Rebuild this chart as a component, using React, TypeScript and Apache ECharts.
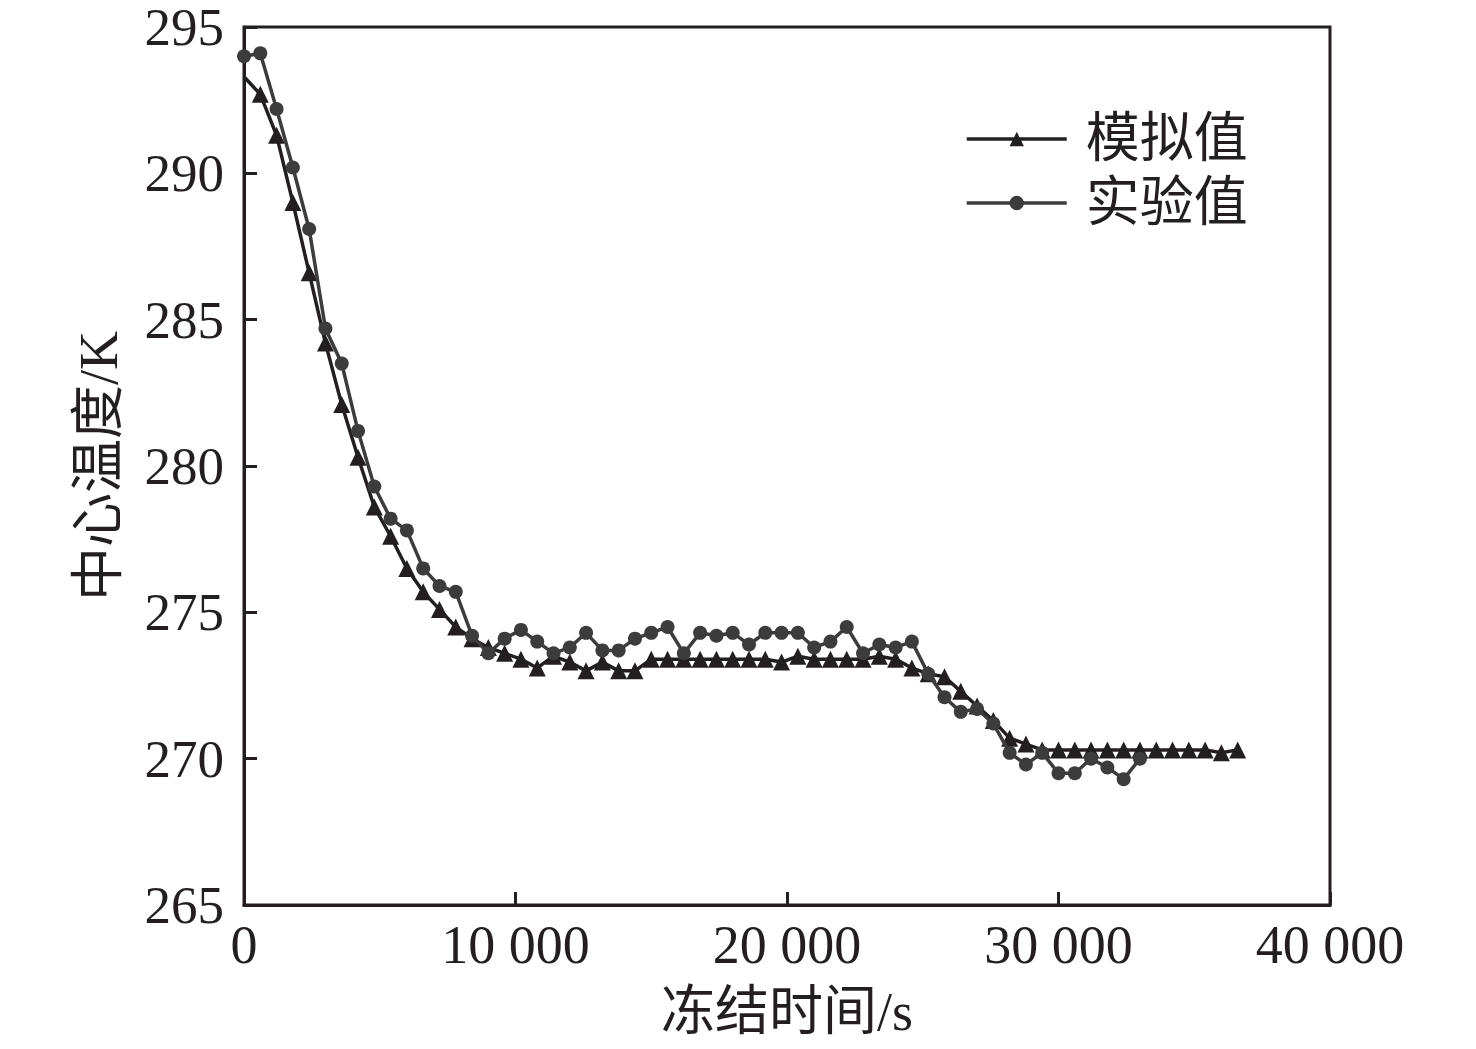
import React, { useEffect, useRef } from "react";
import * as echarts from "echarts";

const simTimes = [
  0, 600, 1200, 1800, 2400, 3000, 3600, 4200, 4800, 5400, 6000, 6600, 7200, 7800, 8400, 9000,
  9600, 10200, 10800, 11400, 12000, 12600, 13200, 13800, 14400, 15000, 15600, 16200, 16800,
  17400, 18000, 18600, 19200, 19800, 20400, 21000, 21600, 22200, 22800, 23400, 24000, 24600,
  25200, 25800, 26400, 27000, 27600, 28200, 28800, 29400, 30000, 30600, 31200, 31800, 32400,
  33000, 33600, 34200, 34800, 35400, 36000, 36600,
];
const simValues = [
  293.3, 292.7, 291.3, 289.0, 286.6, 284.2, 282.1, 280.3, 278.6, 277.6, 276.5, 275.7, 275.1,
  274.5, 274.1, 273.8, 273.6, 273.4, 273.1, 273.5, 273.3, 273.0, 273.3, 273.0, 273.0, 273.4,
  273.4, 273.4, 273.4, 273.4, 273.4, 273.4, 273.4, 273.3, 273.5, 273.4, 273.4, 273.4, 273.4,
  273.5, 273.4, 273.1, 272.9, 272.8, 272.3, 271.8, 271.3, 270.7, 270.5, 270.3, 270.3, 270.3,
  270.3, 270.3, 270.3, 270.3, 270.3, 270.3, 270.3, 270.3, 270.2, 270.3,
];
const expTimes = [
  0, 600, 1200, 1800, 2400, 3000, 3600, 4200, 4800, 5400, 6000, 6600, 7200, 7800, 8400, 9000,
  9600, 10200, 10800, 11400, 12000, 12600, 13200, 13800, 14400, 15000, 15600, 16200, 16800,
  17400, 18000, 18600, 19200, 19800, 20400, 21000, 21600, 22200, 22800, 23400, 24000, 24600,
  25200, 25800, 26400, 27000, 27600, 28200, 28800, 29400, 30000, 30600, 31200, 31800, 32400,
  33000,
];
const expValues = [
  294.0, 294.1, 292.2, 290.2, 288.1, 284.7, 283.5, 281.2, 279.3, 278.2, 277.8, 276.5, 275.9,
  275.7, 274.2, 273.6, 274.1, 274.4, 274.0, 273.6, 273.8, 274.3, 273.7, 273.7, 274.1, 274.3,
  274.5, 273.6, 274.3, 274.2, 274.3, 273.9, 274.3, 274.3, 274.3, 273.8, 274.0, 274.5, 273.6,
  273.9, 273.8, 274.0, 272.9, 272.1, 271.6, 271.7, 271.2, 270.2, 269.8, 270.2, 269.5, 269.5,
  270.0, 269.7, 269.3, 270.0,
];
const seriesNames = ["模拟值", "实验值"];
const xAxisTitle = "冻结时间/s";
const yAxisTitle = "中心温度/K";

const FONT = "'Liberation Serif', 'Noto Sans CJK SC', serif";
const INK = "#231f20";
const GREY = "#3c3c3c";

export default function App() {
  const ref = useRef<HTMLDivElement>(null);
  useEffect(() => {
    if (!ref.current) return;
    const chart = echarts.init(ref.current, undefined, { renderer: "svg" });
    const simData = simTimes.map((t, i) =>
      i === 0 ? { value: [t, simValues[i]], symbol: "none" } : [t, simValues[i]]
    );
    const expData = expTimes.map((t, i) => [t, expValues[i]]);
    chart.setOption({
      animation: false,
      backgroundColor: "#ffffff",
      grid: {
        left: 244,
        right: 146,
        top: 27,
        bottom: 144,
        show: true,
        borderColor: INK,
        borderWidth: 3,
        backgroundColor: "transparent",
      },
      legend: {
        orient: "vertical",
        left: 960,
        top: 105,
        itemWidth: 100,
        itemHeight: 18,
        itemGap: 6,
        data: seriesNames,
        lineStyle: { width: 3.5 },
        textStyle: {
          fontFamily: FONT,
          fontSize: 54,
          color: INK,
          lineHeight: 58,
          padding: [0, 0, 0, 14],
        },
      },
      xAxis: {
        type: "value",
        min: 0,
        max: 40000,
        interval: 10000,
        name: xAxisTitle,
        nameLocation: "middle",
        nameGap: 80,
        nameTextStyle: { fontFamily: FONT, fontSize: 54, color: INK },
        axisLine: { show: true, lineStyle: { color: INK, width: 3 } },
        axisTick: { show: true, inside: true, length: 13, lineStyle: { color: INK, width: 3 } },
        splitLine: { show: false },
        axisLabel: {
          fontFamily: FONT,
          fontSize: 54,
          color: INK,
          margin: 13,
          formatter: (v: number) =>
            v === 0 ? "0" : `${Math.floor(v / 1000)} ${String(v % 1000).padStart(3, "0")}`,
        },
      },
      yAxis: {
        type: "value",
        min: 265,
        max: 295,
        interval: 5,
        name: yAxisTitle,
        nameLocation: "middle",
        nameGap: 118,
        nameTextStyle: { fontFamily: FONT, fontSize: 54, color: INK },
        axisLine: { show: true, lineStyle: { color: INK, width: 3 } },
        axisTick: { show: true, inside: true, length: 13, lineStyle: { color: INK, width: 3 } },
        splitLine: { show: false },
        axisLabel: { fontFamily: FONT, fontSize: 53, color: INK, margin: 20, lineHeight: 50 },
      },
      series: [
        {
          name: seriesNames[0],
          type: "line",
          data: simData,
          symbol: "triangle",
          symbolSize: 17,
          color: INK,
          itemStyle: { color: INK },
          lineStyle: { color: INK, width: 3.5 },
          z: 2,
        },
        {
          name: seriesNames[1],
          type: "line",
          data: expData,
          symbol: "circle",
          symbolSize: 14,
          color: GREY,
          itemStyle: { color: GREY },
          lineStyle: { color: GREY, width: 3.5 },
          z: 3,
        },
      ],
    });
    return () => chart.dispose();
  }, []);
  return (
    <div
      ref={ref}
      style={{ position: "fixed", left: 0, top: 0, width: 1476, height: 1049, background: "#fff" }}
    />
  );
}
